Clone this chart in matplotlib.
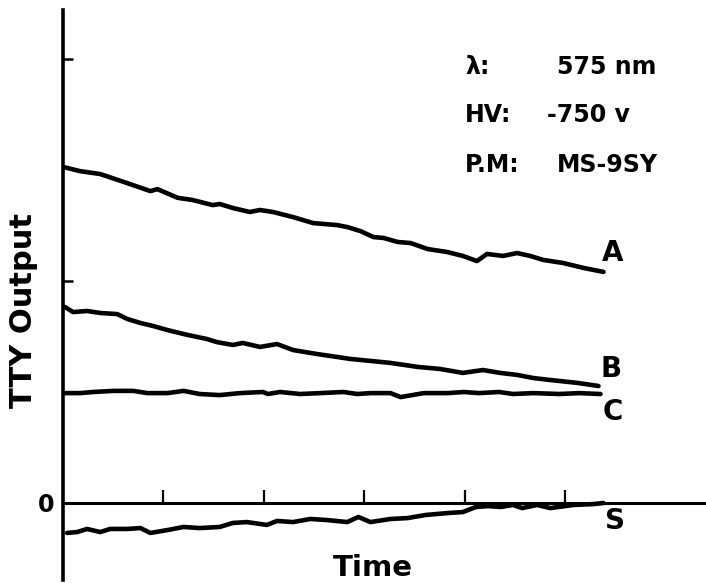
#Recreation of the TTY output vs time chart
import matplotlib.pyplot as plt

#Curve A
tempo_a = [0.00, 0.17, 0.37, 0.64, 0.87, 0.94, 1.14, 1.29, 1.49, 1.56, 1.69, 1.86, 1.96,
           2.09, 2.29, 2.49, 2.73, 2.83, 2.96, 3.09, 3.19, 3.33, 3.46, 3.63, 3.82, 3.98,
           4.12, 4.22, 4.38, 4.52, 4.65, 4.78, 4.98, 5.18, 5.38]
saida_a = [1.514, 1.495, 1.482, 1.441, 1.405, 1.414, 1.375, 1.365, 1.342, 1.347, 1.329,
           1.311, 1.320, 1.311, 1.288, 1.261, 1.252, 1.243, 1.225, 1.198, 1.194, 1.176,
           1.171, 1.144, 1.131, 1.113, 1.090, 1.122, 1.113, 1.126, 1.113, 1.095, 1.081,
           1.059, 1.041]

#Curve B
tempo_b = [0.02, 0.10, 0.24, 0.37, 0.54, 0.64, 0.77, 0.90, 1.04, 1.24, 1.43, 1.53, 1.69,
           1.79, 1.96, 2.13, 2.29, 2.53, 2.86, 3.06, 3.26, 3.53, 3.75, 3.98, 4.18, 4.35,
           4.52, 4.68, 4.85, 5.12, 5.33]
saida_b = [0.883, 0.860, 0.865, 0.856, 0.851, 0.829, 0.811, 0.797, 0.779, 0.757, 0.739,
           0.725, 0.712, 0.721, 0.703, 0.716, 0.689, 0.671, 0.649, 0.640, 0.631, 0.613,
           0.604, 0.586, 0.599, 0.586, 0.577, 0.563, 0.554, 0.541, 0.527]

#Curve C (almost flat)
tempo_c = [0.00, 0.17, 0.30, 0.50, 0.70, 0.84, 1.04, 1.20, 1.36, 1.56, 1.76, 1.99, 2.04,
           2.16, 2.36, 2.56, 2.79, 2.93, 3.06, 3.26, 3.36, 3.59, 3.83, 3.99, 4.14, 4.34,
           4.48, 4.68, 4.94, 5.14, 5.34, 5.35]
saida_c = [0.495, 0.495, 0.500, 0.505, 0.505, 0.495, 0.495, 0.505, 0.491, 0.486, 0.495,
           0.500, 0.491, 0.500, 0.491, 0.495, 0.500, 0.491, 0.495, 0.495, 0.477, 0.495,
           0.495, 0.500, 0.495, 0.500, 0.491, 0.495, 0.491, 0.495, 0.491, 0.491]

#Curve S (below zero)
tempo_s = [0.04, 0.14, 0.24, 0.37, 0.47, 0.64, 0.77, 0.87, 1.04, 1.20, 1.36, 1.56, 1.69,
           1.83, 2.03, 2.13, 2.29, 2.46, 2.63, 2.83, 2.94, 3.06, 3.26, 3.43, 3.61, 3.84,
           3.98, 4.11, 4.23, 4.36, 4.48, 4.57, 4.72, 4.85, 5.08, 5.28, 5.38]
saida_s = [-0.135, -0.131, -0.117, -0.131, -0.117, -0.117, -0.113, -0.135, -0.122, -0.108,
           -0.113, -0.108, -0.090, -0.086, -0.099, -0.081, -0.086, -0.072, -0.077, -0.086,
           -0.063, -0.086, -0.072, -0.068, -0.054, -0.045, -0.041, -0.018, -0.014, -0.018,
           -0.009, -0.023, -0.009, -0.023, -0.009, -0.005, 0.000]

#Axis ticks
ticks_x = [1, 2, 3, 4, 5]
ticks_y = [0, 1, 2]
rotulos_y = ['0', '', '']

#Experiment notes
notas = [('λ:', '575 nm'), ('HV:', '-750 v'), ('P.M:', 'MS-9SY')]

plt.rcParams['font.family'] = ['DejaVu Sans']
plt.rcParams['font.weight'] = 'bold'

fig = plt.figure(figsize=(7.06, 5.83), dpi=100)
ax = fig.add_axes([63 / 706, 3 / 583, 643 / 706, 570 / 583])

#Draw the four curves
for x, y in [(tempo_a, saida_a), (tempo_b, saida_b), (tempo_c, saida_c), (tempo_s, saida_s)]:
    ax.plot(x, y, color='black', lw=3.3, solid_joinstyle='round', solid_capstyle='round')

#Axis limits
ax.set_xlim(0, 6.40)
ax.set_ylim(-0.347, 2.221)

#Axis lines like the hand drawing
ax.spines['top'].set_visible(False)
ax.spines['right'].set_visible(False)
ax.spines['bottom'].set_position(('data', 0))
ax.spines['bottom'].set_linewidth(2.2)
ax.spines['left'].set_linewidth(2.6)

#Ticks pointing inwards
ax.set_xticks(ticks_x)
ax.set_xticklabels([''] * len(ticks_x))
ax.set_yticks(ticks_y)
ax.set_yticklabels(rotulos_y, fontsize=17, fontweight='bold')
ax.tick_params(axis='x', direction='in', length=9.5, width=1.6)
ax.tick_params(axis='y', direction='in', length=7.5, width=1.8, pad=6)

#Axis labels
ax.set_ylabel('TTY Output', fontsize=22, fontweight='bold', va='center')
ax.yaxis.set_label_coords(-0.061, 0.472)
ax.set_xlabel('Time', fontsize=21, fontweight='bold', va='center')
ax.xaxis.set_label_coords(0.482, 0.021)

#Curve names at the end of each curve
ax.text(5.47, 1.126, 'A', fontsize=20, fontweight='bold', ha='center', va='center')
ax.text(5.46, 0.604, 'B', fontsize=20, fontweight='bold', ha='center', va='center')
ax.text(5.47, 0.410, 'C', fontsize=20, fontweight='bold', ha='center', va='center')
ax.text(5.49, -0.081, 'S', fontsize=20, fontweight='bold', ha='center', va='center')

#Notes in the upper right corner
linhas_y = [1.964, 1.748, 1.523]
colunas_x = [4.92, 4.82, 4.92]
for (chave, valor), yy, xx in zip(notas, linhas_y, colunas_x):
    ax.text(4.0, yy, chave, fontsize=17, fontweight='bold', ha='left', va='center')
    ax.text(xx, yy, valor, fontsize=17, fontweight='bold', ha='left', va='center')

fig.savefig('out.png', dpi=100, facecolor='white')
